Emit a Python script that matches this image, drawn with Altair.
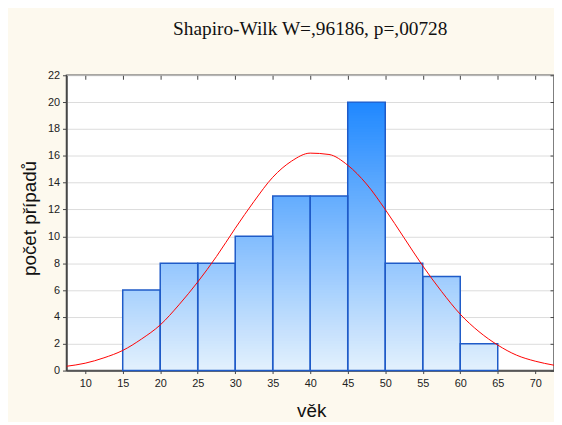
import altair as alt
import pandas as pd

# histogram data (age bins of width 5)
bin_start = [15, 20, 25, 30, 35, 40, 45, 50, 55, 60]
counts = [6, 8, 8, 10, 13, 13, 20, 8, 7, 2]

# fitted normal curve
curve_x = [7.5, 10, 12.5, 15, 17.5, 20, 22.5, 25, 27.5, 30, 32.5, 35, 37.5, 40,
           42.5, 45, 47.5, 50, 52.5, 55, 57.5, 60, 62.5, 65, 67.5, 70, 72.5]
curve_y = [0.32, 0.55, 0.95, 1.5, 2.35, 3.4, 4.9, 6.6, 8.5, 10.6, 12.6, 14.4, 15.6, 16.2,
           16.1, 15.3, 13.9, 12.0, 9.9, 7.8, 5.9, 4.2, 2.9, 1.9, 1.15, 0.7, 0.4]

x_ticks = [10, 15, 20, 25, 30, 35, 40, 45, 50, 55, 60, 65, 70]
y_ticks = [0, 2, 4, 6, 8, 10, 12, 14, 16, 18, 20, 22]

hist = pd.DataFrame({"start": bin_start, "count": counts})
curve = pd.DataFrame({"x": curve_x, "y": curve_y})

xscale = alt.Scale(domain=[7.5, 72.5], nice=False, zero=False)
yscale = alt.Scale(domain=[0, 22], nice=False)

base = alt.Chart(hist).transform_calculate(end="datum.start + 5", zero="0")

# gradient fill: stacked strips coloured by absolute height
strips = base.transform_calculate(
    lev="sequence(0, datum.count, 0.2)"
).transform_flatten(["lev"]).mark_rect(strokeWidth=0).encode(
    x=alt.X("start:Q", scale=xscale,
            axis=alt.Axis(values=x_ticks, title="věk", grid=False, labelFontSize=11,
                          labelColor="#222", labelFont="Liberation Sans", domainColor="#444",
                          domainWidth=1.5, tickColor="#444", tickSize=3, labelPadding=4,
                          titleFont="Liberation Sans", titleFontSize=19, titleFontWeight="normal",
                          titleColor="#111", titleX=247, titleY=46, titleBaseline="alphabetic")),
    x2="end:Q",
    y=alt.Y("lev:Q", scale=yscale,
            axis=alt.Axis(values=y_ticks, title="počet případů", grid=True, gridColor="#dcdcdc",
                          labelFontSize=11, labelColor="#222", labelFont="Liberation Sans",
                          domainColor="#444", domainWidth=1.5, tickColor="#444", tickSize=4,
                          labelPadding=3, titleFont="Liberation Sans", titleFontSize=19,
                          titleFontWeight="normal", titleColor="#111", titleAngle=270,
                          titleX=-37, titleY=144, titleAlign="center", titleBaseline="middle")),
    y2="count:Q",
    color=alt.Color("lev:Q", scale=alt.Scale(domain=[0, 21], range=["#e2f0fd", "#1482ff"],
                                             interpolate="rgb"), legend=None),
)

outline = base.mark_rect(fillOpacity=0, stroke="#1f5bc8", strokeWidth=1.5).encode(
    x=alt.X("start:Q", scale=xscale, axis=None),
    x2="end:Q",
    y=alt.Y("count:Q", scale=yscale, axis=None),
    y2="zero:Q",
)

line = alt.Chart(curve).mark_line(color="#ff0000", strokeWidth=1, interpolate="monotone",
                                  clip=True).encode(
    x=alt.X("x:Q", scale=xscale,
            axis=alt.Axis(orient="top", values=x_ticks, labels=False, title=None, grid=False,
                          domain=False, tickSize=4, offset=-4, tickColor="#444")),
    y=alt.Y("y:Q", scale=yscale,
            axis=alt.Axis(orient="right", values=y_ticks, labels=False, title=None, grid=False,
                          domain=False, tickSize=4, offset=-4, tickColor="#444")),
)

chart = alt.layer(strips, outline, line).resolve_axis(x="independent", y="independent").properties(
    width=492, height=298,
    autosize=alt.AutoSizeParams(type="none"),
    padding={"left": 59, "top": 66, "right": 0, "bottom": 50},
    title=alt.TitleParams("Shapiro-Wilk W=,96186, p=,00728", font="Liberation Serif",
                          fontSize=19.5, fontWeight="normal", color="#111", anchor="middle",
                          baseline="alphabetic", offset=15),
).configure(background="#fdf9ee").configure_view(fill="white", stroke="#555", strokeWidth=1.5)

chart.save("out.html", embed_options={"renderer": "svg", "actions": False})
